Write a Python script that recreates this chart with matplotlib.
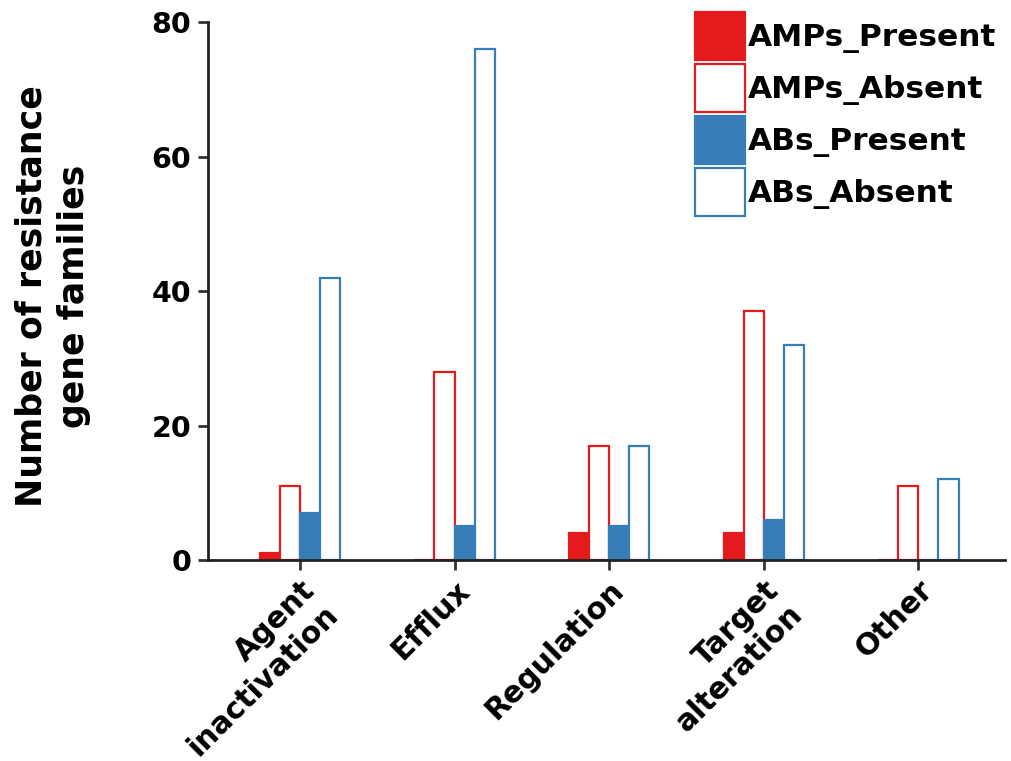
import numpy as np
import matplotlib.pyplot as plt
from matplotlib.patches import Patch

categories = ["Agent\ninactivation", "Efflux", "Regulation", "Target\nalteration", "Other"]
amps_present = [1, 0, 4, 4, 0]
amps_absent = [11, 28, 17, 37, 11]
abs_present = [7, 5, 5, 6, 0]
abs_absent = [42, 76, 17, 32, 12]

RED = '#e41a1c'
BLUE = '#377eb8'

plt.rcParams['font.family'] = ['DejaVu Sans']
plt.rcParams['font.weight'] = 'bold'

fig = plt.figure(figsize=(10.12, 7.61), dpi=100)
ax = fig.add_axes([0.2055, 0.264, 0.7875, 0.707])

x = np.arange(len(categories))
w = 0.13
series = [
    (amps_present, RED, RED),
    (amps_absent, 'white', RED),
    (abs_present, BLUE, BLUE),
    (abs_absent, 'white', BLUE),
]
for i, (vals, fc, ec) in enumerate(series):
    ax.bar(x + (i - 1.5) * w, vals, width=w, color=fc, edgecolor=ec, linewidth=1.6, zorder=2)

ax.set_xlim(-0.595, 4.56)
ax.set_ylim(0, 80)
ax.set_yticks([0, 20, 40, 60, 80])
ax.spines['top'].set_visible(False)
ax.spines['right'].set_visible(False)
for s in ['left', 'bottom']:
    ax.spines[s].set_linewidth(2)
    ax.spines[s].set_color('#222222')
ax.spines['bottom'].set_zorder(3)
ax.tick_params(axis='both', width=2, length=7, color='#333333')
ax.tick_params(axis='y', labelsize=20.5, pad=5)
ax.tick_params(axis='x', labelsize=21.5, pad=4)
ax.set_xticks(x)
ax.set_xticklabels(categories, rotation=45, ha='right', rotation_mode='anchor',
                   multialignment='right', fontweight='bold')
for lab in ax.get_yticklabels():
    lab.set_fontweight('bold')

ax.set_ylabel("Number of resistance\ngene families", fontsize=25, fontweight='bold',
              linespacing=1.3)
ax.yaxis.set_label_coords(-0.147, 0.49)

handles = [
    Patch(facecolor=RED, edgecolor=RED, linewidth=1.6),
    Patch(facecolor='white', edgecolor=RED, linewidth=1.6),
    Patch(facecolor=BLUE, edgecolor=BLUE, linewidth=1.6),
    Patch(facecolor='white', edgecolor=BLUE, linewidth=1.6),
]
labels = ["AMPs_Present", "AMPs_Absent", "ABs_Present", "ABs_Absent"]
leg = ax.legend(handles, labels, loc='upper left', bbox_to_anchor=(0.611, 1.0186),
                frameon=False, fontsize=22.5, handlelength=1.6, handleheight=2.0,
                labelspacing=0.12, handletextpad=0.1, borderaxespad=0, borderpad=0)
for t in leg.get_texts():
    t.set_fontweight('bold')

fig.savefig('out.png', dpi=100)
